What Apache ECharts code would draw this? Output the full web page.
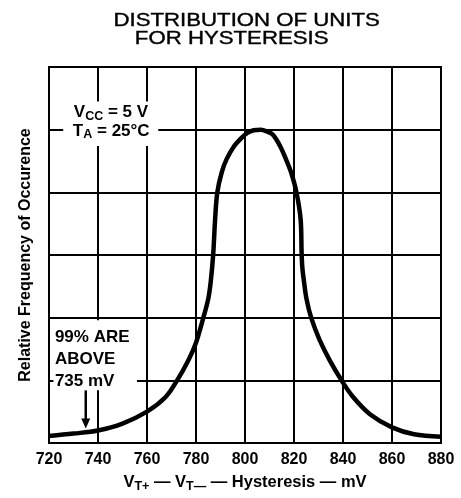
<!DOCTYPE html>
<html>
<head>
<meta charset="utf-8">
<script src="https://cdn.jsdelivr.net/npm/echarts@6/dist/echarts.min.js"></script>
<style>
html,body{margin:0;padding:0;background:#fff;}
#c{width:461px;height:498px;}
</style>
</head>
<body>
<div id="c"></div>
<script>
// Hysteresis (mV) and relative frequency
const hysteresis = [720,730,740,750,760,767.5,772,777,780,783,785,786,787,787.8,788.7,790.5,792.5,795.6,798.6,801,803.5,806.5,809,811.4,814.3,816.7,818.8,821,822.7,823.1,823.4,824.1,825.1,827,830.4,834.7,839.7,844.2,851,860,869,880];
const frequency  = [0.11,0.15,0.2,0.31,0.5,0.73,0.98,1.33,1.6,2.0,2.3,2.57,3.0,3.57,4.0,4.32,4.53,4.74,4.87,4.95,4.99,5.0,4.97,4.92,4.74,4.53,4.32,4.0,3.57,3.05,2.8,2.57,2.3,2.0,1.65,1.31,0.98,0.73,0.46,0.25,0.14,0.1];

const xMin = 720, xMax = 880, xStep = 20;
const yMin = 0, yMax = 6, yStep = 1;

const titleLines = ['DISTRIBUTION OF UNITS', 'FOR HYSTERESIS'];
const yName = 'Relative Frequency of Occurence';
const markedValue = 735; // "99% ARE ABOVE 735 mV"

const FONT = '"Liberation Sans", Arial, Helvetica, sans-serif';

const chart = echarts.init(document.getElementById('c'), null, {renderer: 'canvas'});

chart.setOption({
  backgroundColor: '#fff',
  animation: false,
  grid: {left: 49, right: 20, top: 67, bottom: 52, show: true, borderColor: '#000', borderWidth: 2},
  xAxis: {
    type: 'value', min: xMin, max: xMax, interval: xStep,
    axisLine: {show: true, lineStyle: {color: '#000', width: 2}},
    axisTick: {show: false},
    splitLine: {show: true, lineStyle: {color: '#000', width: 2}},
    axisLabel: {color: '#000', fontFamily: FONT, fontWeight: 'bold', fontSize: 16, margin: 9},
    name: '{b|V}{s|T+}{b| — V}{s|T—}{b| — Hysteresis — mV}',
    nameLocation: 'middle',
    nameGap: 29,
    nameTextStyle: {
      rich: {
        b: {fontFamily: FONT, fontWeight: 'bold', fontSize: 16.5, color: '#000'},
        s: {fontFamily: FONT, fontWeight: 'bold', fontSize: 12.5, color: '#000', padding: [8, 0, 0, 0]}
      }
    }
  },
  yAxis: {
    type: 'value', min: yMin, max: yMax, interval: yStep,
    axisLine: {show: true, lineStyle: {color: '#000', width: 2}},
    axisTick: {show: false},
    axisLabel: {show: false},
    splitLine: {show: true, lineStyle: {color: '#000', width: 2}},
    name: yName,
    nameLocation: 'middle',
    nameRotate: 90,
    nameGap: 15,
    nameTextStyle: {fontFamily: FONT, fontWeight: 'bold', fontSize: 16, color: '#000'}
  },
  series: [{
    type: 'line',
    data: hysteresis.map((x, i) => [x, frequency[i]]),
    showSymbol: false,
    smooth: 0.35,
    lineStyle: {color: '#000', width: 4.5},
    z: 3
  }]
});

function px(x, y) { return chart.convertToPixel({gridIndex: 0}, [x, y]); }
function box(x0, y0, x1, y1) {
  const a = px(x0, y0), b = px(x1, y1);
  return {type: 'rect', z: 10, shape: {x: Math.min(a[0], b[0]), y: Math.min(a[1], b[1]), width: Math.abs(b[0] - a[0]), height: Math.abs(b[1] - a[1])}, style: {fill: '#fff'}};
}
const richAnn = {
  b: {fontFamily: FONT, fontWeight: 'bold', fontSize: 17, color: '#000'},
  s: {fontFamily: FONT, fontWeight: 'bold', fontSize: 12.5, color: '#000', padding: [8, 0, 0, 0]}
};
function ann(x, y, text, align) {
  const p = px(x, y);
  return {type: 'text', z: 11, x: p[0], y: p[1], style: {text: text, rich: richAnn, align: align || 'center', textAlign: align || 'center', verticalAlign: 'middle', textVerticalAlign: 'middle', font: 'bold 17px ' + FONT, fill: '#000'}};
}
const arrowTop = px(markedValue, 0.84), arrowTip = px(markedValue, 0.23);
const headLen = 10, headHalf = 4.5;

const titleStyle = {font: '18.5px ' + FONT, fill: '#000', stroke: '#000', lineWidth: 0.4, align: 'center', textAlign: 'center', verticalAlign: 'middle', textVerticalAlign: 'middle'};
const graphics = [
  {type: 'text', x: 246.7, y: 20.5, scaleX: 1.2, style: Object.assign({text: titleLines[0]}, titleStyle)},
  {type: 'text', x: 231.7, y: 38.5, scaleX: 1.2, style: Object.assign({text: titleLines[1]}, titleStyle)},
  box(725.8, 5.45, 764.6, 4.74),
  ann(745.3, 5.28, '{b|V}{s|CC}{b| = 5 V}'),
  ann(745.4, 4.98, '{b|T}{s|A}{b| = 25°C}'),
  box(721.8, 1.96, 755.9, 0.84),
  ann(722.4, 1.69, '{b|99% ARE}', 'left'),
  ann(722.4, 1.34, '{b|ABOVE}', 'left'),
  ann(722.4, 0.98, '{b|735 mV}', 'left'),
  {type: 'line', z: 11, shape: {x1: arrowTop[0], y1: arrowTop[1], x2: arrowTip[0], y2: arrowTip[1] - headLen + 1}, style: {stroke: '#000', lineWidth: 2.5}},
  {type: 'polygon', z: 11, shape: {points: [[arrowTip[0] - headHalf, arrowTip[1] - headLen], [arrowTip[0] + headHalf, arrowTip[1] - headLen], [arrowTip[0], arrowTip[1]]]}, style: {fill: '#000'}}
];
chart.setOption({graphic: graphics});
</script>
</body>
</html>
